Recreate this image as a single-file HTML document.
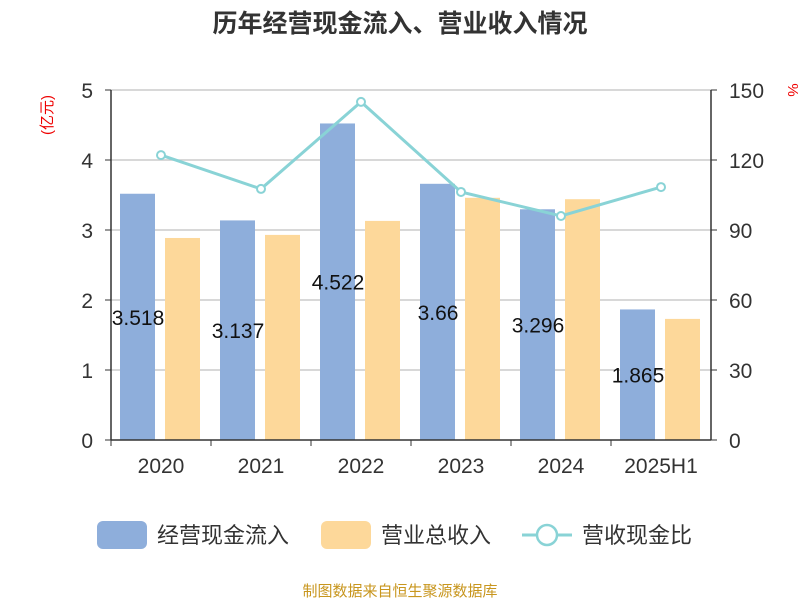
<!DOCTYPE html>
<html><head><meta charset="utf-8"><style>
body{margin:0;background:#fff;font-family:"Liberation Sans","Noto Sans CJK SC",sans-serif;}
</style></head><body>
<svg width="800" height="600" xmlns="http://www.w3.org/2000/svg" font-family="Liberation Sans, Noto Sans CJK SC, sans-serif">
<text x="400" y="32" text-anchor="middle" font-size="25" font-weight="bold" fill="#333">历年经营现金流入、营业收入情况</text>
<g id="grid"></g><g id="bars"></g><g id="line"></g><g id="axes"></g><g id="labels"></g>
<text x="52" y="115" text-anchor="middle" font-size="15" fill="#e00" transform="rotate(-90 52 115)">(亿元)</text>
<text x="788" y="90" text-anchor="middle" font-size="15" fill="#e00" transform="rotate(90 788 90)">%</text>
<g>
<rect x="97" y="521" width="50" height="28" rx="6" fill="#8eaedb"/>
<text x="157" y="543" font-size="22" fill="#333">经营现金流入</text>
<rect x="321" y="521" width="50" height="28" rx="6" fill="#fdd89a"/>
<text x="381" y="543" font-size="22" fill="#333">营业总收入</text>
<line x1="522" y1="535" x2="572" y2="535" stroke="#89d3d6" stroke-width="3"/>
<circle cx="547" cy="535" r="10" fill="#fff" stroke="#89d3d6" stroke-width="2.5"/>
<text x="582" y="543" font-size="22" fill="#333">营收现金比</text>
</g>
<text x="400" y="596" text-anchor="middle" font-size="15" fill="#c8961e">制图数据来自恒生聚源数据库</text>
</svg>
<script>
const categories=["2020","2021","2022","2023","2024","2025H1"];
const cashIn=[3.518,3.137,4.522,3.66,3.296,1.865];
const revenue=[2.886,2.93,3.13,3.46,3.44,1.73];
const ratio=[122.1,107.6,144.9,106.3,96.0,108.4];
const leftTicks=[0,1,2,3,4,5];
const rightTicks=[0,30,60,90,120,150];
const NS="http://www.w3.org/2000/svg";
const L=111,R=711,T=90,B=440;
const yL=v=>B-(v/5)*(B-T);
const yR=v=>B-(v/150)*(B-T);
const bw=(R-L)/categories.length;
const xC=i=>L+bw*(i+0.5);
function mk(tag,attrs,parent,text){const e=document.createElementNS(NS,tag);for(const k in attrs)e.setAttribute(k,attrs[k]);if(text!==undefined)e.textContent=text;document.getElementById(parent).appendChild(e);return e;}
leftTicks.forEach((t,i)=>{
 if(t>0){const g=mk('line',{x1:L,x2:R,y1:yL(t),y2:yL(t),stroke:'#ccc','stroke-width':1.5},'grid');
 
 }
 const a=mk('text',{x:L-18,y:yL(t)+8,'text-anchor':'end','font-size':21,fill:'#333'},'axes',t);
 
 
 mk('line',{x1:L-6,x2:L,y1:yL(t),y2:yL(t),stroke:'#333'},'axes');
});
rightTicks.forEach(t=>{
 const a=mk('text',{x:R+18,y:yR(t)+8,'font-size':21,fill:'#333'},'axes',t);
 
 
 mk('line',{x1:R,x2:R+6,y1:yR(t),y2:yR(t),stroke:'#333'},'axes');
});
mk('line',{x1:L,x2:L,y1:T,y2:B,stroke:'#333','stroke-width':1.5},'axes');
mk('line',{x1:R,x2:R,y1:T,y2:B,stroke:'#333','stroke-width':1.5},'axes');
mk('line',{x1:L,x2:R,y1:B,y2:B,stroke:'#333','stroke-width':1.5},'axes');
categories.forEach((c,i)=>{
 mk('line',{x1:L+bw*i,x2:L+bw*i,y1:B,y2:B+6,stroke:'#333'},'axes');
 const xl=mk('text',{x:xC(i),y:B+33,'text-anchor':'middle','font-size':21,fill:'#333'},'axes',c);
 
 
 const b1=mk('rect',{x:xC(i)-41,y:yL(cashIn[i]),width:35,height:B-yL(cashIn[i]),fill:'#8eaedb'},'bars');
 
 
 const b2=mk('rect',{x:xC(i)+4,y:yL(revenue[i]),width:35,height:B-yL(revenue[i]),fill:'#fdd89a'},'bars');
 
 
 const lb=mk('text',{x:xC(i)-23,y:(yL(cashIn[i])+B)/2+8,'text-anchor':'middle','font-size':21,fill:'#111'},'labels',cashIn[i]);
 
 
});
const pts=ratio.map((v,i)=>xC(i)+','+yR(v)).join(' ');
const pl=mk('polyline',{points:pts,fill:'none',stroke:'#89d3d6','stroke-width':3},'line');


ratio.forEach((v,i)=>{
 const c=mk('circle',{cx:xC(i),cy:yR(v),r:4,fill:'#fff',stroke:'#89d3d6','stroke-width':2},'line');
 
 
});
</script>
</body></html>
